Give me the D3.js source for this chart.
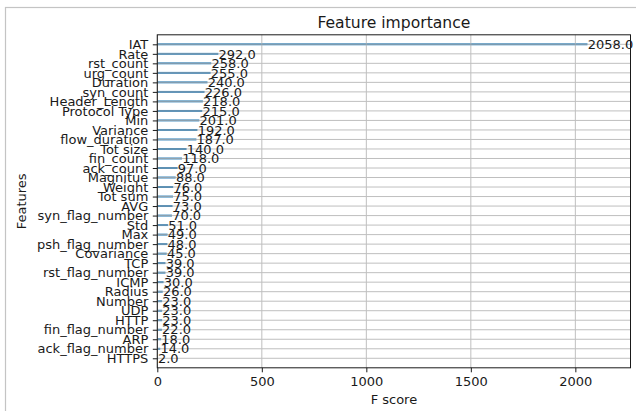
<!DOCTYPE html>
<html>
<head>
<meta charset="utf-8">
<script src="https://cdn.jsdelivr.net/npm/d3@7"></script>
<style>
  html, body { margin: 0; padding: 0; background: #fff; }
  svg { display: block; font-family: "DejaVu Sans", sans-serif; }
</style>
</head>
<body>
<svg id="chart" width="636" height="411"></svg>
<script>
// Feature importance (F score) per feature, listed top to bottom
const features = [
  "IAT", "Rate", "rst_count", "urg_count", "Duration", "syn_count",
  "Header_Length", "Protocol Type", "Min", "Variance", "flow_duration",
  "Tot size", "fin_count", "ack_count", "Magnitue", "Weight", "Tot sum",
  "AVG", "syn_flag_number", "Std", "Max", "psh_flag_number", "Covariance",
  "TCP", "rst_flag_number", "ICMP", "Radius", "Number", "UDP", "HTTP",
  "fin_flag_number", "ARP", "ack_flag_number", "HTTPS"
];
const scores = [
  2058, 292, 258, 255, 240, 226,
  218, 215, 201, 192, 187,
  140, 118, 97, 88, 76, 75,
  73, 70, 51, 49, 48, 45,
  39, 39, 30, 26, 23, 23, 23,
  22, 18, 14, 2
];
const xTicks = [0, 500, 1000, 1500, 2000];

const svg = d3.select("#chart");
const W = 636, H = 411;
const plot = { left: 157.3, right: 630.5, top: 34.8, bottom: 367.8 };
const n = features.length;

// outer frame
svg.append("rect")
  .attr("x", 5.5).attr("y", 7.5)
  .attr("width", W + 20).attr("height", H + 20)
  .attr("fill", "none").attr("stroke", "#c4c4c4").attr("stroke-width", 1.2);

const x = d3.scaleLinear()
  .domain([0, d3.max(scores) * 1.1])
  .range([plot.left, plot.right]);

// row position: first feature at the top, one unit of padding at each end
const y = d3.scalePoint()
  .domain(features)
  .range([plot.top, plot.bottom])
  .padding(1);

const g = svg.append("g");

// bars
g.selectAll("rect.bar")
  .data(features)
  .join("rect")
  .attr("class", "bar")
  .attr("x", x(0))
  .attr("y", d => y(d) - 0.95)
  .attr("width", (d, i) => x(scores[i]) - x(0))
  .attr("height", 1.9)
  .attr("fill", "#1f77b4");

// grid lines
const grid = g.append("g").attr("stroke", "#b0b0b0").attr("stroke-width", 1).attr("opacity", 0.8);
grid.selectAll("line.gx")
  .data(xTicks)
  .join("line")
  .attr("x1", d => x(d)).attr("x2", d => x(d))
  .attr("y1", plot.top).attr("y2", plot.bottom);
grid.selectAll("line.gy")
  .data(features)
  .join("line")
  .attr("x1", plot.left).attr("x2", plot.right)
  .attr("y1", d => y(d)).attr("y2", d => y(d));

// value labels
g.selectAll("text.val")
  .data(features)
  .join("text")
  .attr("class", "val")
  .attr("x", (d, i) => x(scores[i] + 1))
  .attr("y", d => y(d))
  .attr("dy", "0.36em")
  .attr("font-size", 13)
  .attr("fill", "#1a1a1a")
  .text((d, i) => scores[i].toFixed(1));

// axes
const xAxis = d3.axisBottom(x).tickValues(xTicks).tickFormat(d3.format("d"))
  .tickSize(4.5).tickPadding(4.5);
const yAxis = d3.axisLeft(y).tickSize(4.5).tickPadding(4.5);

const gx = svg.append("g").attr("transform", `translate(0,${plot.bottom})`).call(xAxis);
const gy = svg.append("g").attr("transform", `translate(${plot.left},0)`).call(yAxis);
[gx, gy].forEach(a => {
  a.select(".domain").remove();
  a.selectAll("text").attr("font-size", 13).attr("font-family", "DejaVu Sans").attr("fill", "#1a1a1a");
  a.selectAll("line").attr("stroke", "#1a1a1a").attr("stroke-width", 1);
});

// axes frame
svg.append("rect")
  .attr("x", plot.left).attr("y", plot.top)
  .attr("width", plot.right - plot.left).attr("height", plot.bottom - plot.top)
  .attr("fill", "none").attr("stroke", "#1a1a1a").attr("stroke-width", 1);

// titles
svg.append("text")
  .attr("x", (plot.left + plot.right) / 2).attr("y", 27.5)
  .attr("text-anchor", "middle").attr("font-size", 15.6).attr("fill", "#1a1a1a")
  .text("Feature importance");
svg.append("text")
  .attr("x", (plot.left + plot.right) / 2).attr("y", 404)
  .attr("text-anchor", "middle").attr("font-size", 13).attr("fill", "#1a1a1a")
  .text("F score");
svg.append("text")
  .attr("transform", `translate(26,${(plot.top + plot.bottom) / 2}) rotate(-90)`)
  .attr("text-anchor", "middle").attr("font-size", 13).attr("fill", "#1a1a1a")
  .text("Features");
</script>
</body>
</html>
